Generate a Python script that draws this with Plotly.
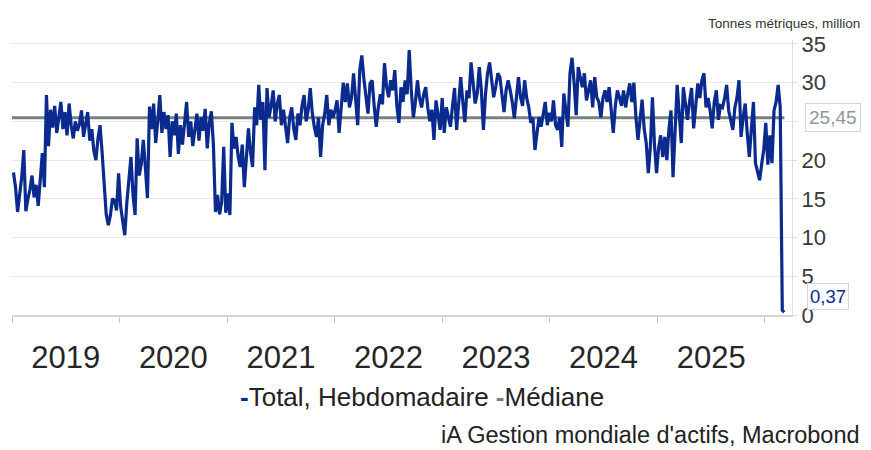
import pandas as pd
import plotly.graph_objects as go

# weekly totals, million metric tonnes
y2019 = [18.4, 16.5, 13.3, 15.5, 17.8, 21.3, 13.4, 15.0, 16.2, 18.0, 15.2, 16.8, 14.1,
         17.5, 20.9, 16.5, 28.4, 21.8, 26.5, 24.2, 27.0, 23.5, 25.8, 27.5, 24.0, 26.2,
         23.2, 27.3, 24.5, 22.8, 25.0, 23.8, 24.6, 26.4, 23.0, 24.8, 26.2, 22.5, 24.0,
         21.2, 20.0, 22.8, 24.5, 21.0, 17.5, 13.0, 11.6, 12.8, 15.0, 14.8, 13.5, 18.3]
y2020 = [14.0, 11.8, 10.3, 14.5, 17.0, 20.4, 15.5, 12.9, 22.8, 18.0, 19.5, 22.6, 19.0,
         15.1, 26.9, 24.0, 27.3, 22.2, 25.0, 28.4, 23.5, 26.2, 24.0, 25.8, 20.4, 25.0,
         23.2, 26.0, 20.8, 24.5, 22.0, 25.2, 27.5, 23.0, 25.0, 21.8, 24.2, 26.0, 22.5,
         25.5, 23.8, 26.6, 21.5, 24.8, 26.3, 22.0, 13.3, 15.5, 13.0, 14.6, 21.7, 13.2]
y2021 = [15.7, 12.9, 24.8, 21.5, 23.0, 20.5, 19.1, 22.0, 16.5, 20.0, 24.1, 21.0, 19.1,
         26.8, 24.5, 29.7, 25.2, 27.5, 18.7, 29.3, 25.5, 27.0, 29.0, 25.0, 27.3, 28.4,
         24.5, 26.5, 24.0, 22.2, 25.5, 26.8, 24.0, 22.6, 26.0, 24.5, 27.0, 28.4, 25.0,
         26.5, 29.3, 26.0, 24.2, 23.0, 25.5, 20.4, 24.5, 26.0, 28.4, 24.5, 26.5, 25.5]
y2022 = [26.4, 27.7, 23.5, 27.0, 30.0, 27.5, 29.9, 26.8, 28.0, 31.2, 27.5, 24.5, 31.6,
         33.5, 30.5, 28.6, 26.0, 29.9, 30.3, 27.0, 24.3, 26.8, 28.5, 27.2, 32.5, 29.5,
         28.1, 30.3, 29.0, 31.6, 27.0, 24.8, 29.4, 27.5, 30.3, 28.5, 34.2, 29.0, 25.5,
         27.5, 30.3, 28.0, 26.8, 28.5, 29.4, 26.8, 25.0, 26.5, 22.6, 27.7, 25.5, 23.9]
y2023 = [28.0, 23.5, 26.8, 25.5, 24.3, 27.0, 29.3, 23.9, 27.0, 30.7, 27.5, 24.9, 29.0,
         28.0, 32.6, 29.5, 27.3, 28.6, 32.0, 29.0, 23.9, 28.5, 31.2, 32.6, 30.0, 28.1,
         29.5, 31.2, 30.7, 28.5, 26.2, 29.0, 30.3, 29.0, 27.5, 25.4, 28.5, 30.7, 28.1,
         27.0, 30.3, 28.0, 26.8, 24.8, 25.5, 21.3, 23.5, 25.5, 24.3, 26.0, 27.5, 24.5]
y2024 = [26.1, 25.0, 27.7, 24.5, 23.9, 25.5, 21.7, 28.6, 26.0, 24.3, 31.2, 33.2, 30.0,
         25.8, 32.0, 30.5, 29.4, 31.2, 27.7, 29.0, 30.3, 26.8, 30.7, 28.1, 27.5, 25.5,
         28.0, 29.0, 27.5, 29.4, 26.4, 23.5, 27.0, 29.0, 28.1, 27.0, 29.0, 26.8, 28.5,
         29.9, 27.5, 30.0, 25.5, 22.6, 25.2, 27.8, 24.0, 22.2, 18.3, 21.7, 28.1, 22.0]
y2025 = [18.3, 21.5, 23.2, 20.4, 23.0, 20.0, 24.0, 26.4, 17.8, 24.5, 29.7, 26.0, 22.2,
         29.4, 27.0, 25.2, 27.5, 29.3, 24.1, 27.5, 29.9, 28.0, 30.3, 31.2, 26.8, 28.0,
         26.4, 24.1, 27.5, 29.0, 25.2, 27.0, 26.8, 28.0, 29.7, 26.4, 25.0, 23.9, 26.8,
         28.0, 30.3, 23.0, 25.5, 27.3, 23.5, 20.4, 24.0, 27.5, 19.6, 18.5, 17.4, 19.5]
y2026 = [21.3, 24.8, 19.4, 23.2, 19.6, 26.4, 27.5, 29.7, 26.8, 0.6, 0.37]

median = 25.45

y_ticks = [0, 5, 10, 15, 20, 25, 30, 35]
y_ticktext = ["0", "5", "10", "15", "20", "", "30", "35"]   # 25 sits under the median box

values = y2019 + y2020 + y2021 + y2022 + y2023 + y2024 + y2025 + y2026
dates = pd.date_range("2019-01-06", periods=len(values), freq="7D")

blue = "#0b2a8e"
grey = "#75827f"
font = "Liberation Sans, Arial, sans-serif"

fig = go.Figure()
fig.add_trace(go.Scatter(x=["2019-01-01", dates[-1]], y=[median, median], mode="lines",
                         line=dict(color=grey, width=3), name="Médiane"))
fig.add_trace(go.Scatter(x=dates, y=values, mode="lines",
                         line=dict(color=blue, width=3.2), name="Total, Hebdomadaire"))

# page body has an 8px margin, so the figure is drawn 8px smaller
fig.update_layout(
    width=863, height=442,
    margin=dict(l=4, r=79, t=32, b=135),
    plot_bgcolor="white", paper_bgcolor="white",
    showlegend=False,
    font=dict(family=font, color="#2a2a2a"),
)

fig.update_xaxes(
    type="date", range=["2019-01-01", "2026-04-03"],
    dtick="M12", tick0="2019-01-01", ticklabelmode="period", tickformat="%Y",
    ticks="outside", ticklen=6, tickcolor="#c8c8c8", ticklabelstandoff=8,
    showline=True, linecolor="#d6d6d6", linewidth=1.5,
    showgrid=False, zeroline=False, automargin=False,
    tickfont=dict(size=31, color="#262626"),
)
fig.update_yaxes(
    side="right", range=[0, 35.5], tickvals=y_ticks, ticktext=y_ticktext,
    showgrid=True, gridcolor="#e9e9e9", gridwidth=1,
    showline=True, linecolor="#dedede", ticks="outside", ticklen=4, tickcolor="#dedede",
    zeroline=False, automargin=False,
    tickfont=dict(size=22, color="#3a3a3a"),
)

fig.add_annotation(xref="paper", yref="paper", x=1.0, xshift=70, y=1.0, yshift=26,
                   xanchor="right", yanchor="top", showarrow=False,
                   text="Tonnes métriques, million", font=dict(size=13.5, color="#333"))

fig.add_annotation(xref="paper", yref="y", x=1.0, y=median, xshift=13,
                   xanchor="left", yanchor="middle", showarrow=False,
                   text="25,45", font=dict(size=19, color="#8d9a9a"),
                   bordercolor="#cfd6d6", borderwidth=1, borderpad=3, bgcolor="white")
fig.add_annotation(xref="paper", yref="y", x=1.0, y=values[-1], xshift=15, yshift=16,
                   xanchor="left", yanchor="middle", showarrow=False,
                   text="0,37", font=dict(size=18.5, color=blue),
                   bordercolor="#cfd6d6", borderwidth=1, borderpad=2, bgcolor="white")

fig.add_annotation(xref="paper", yref="paper", x=0.5, xshift=20, y=0, yshift=-82,
                   xanchor="center", yanchor="middle", showarrow=False,
                   text=f"<span style='color:{blue}'><b>-</b></span>Total, Hebdomadaire "
                        f"<span style='color:{grey}'><b>-</b></span>Médiane",
                   font=dict(size=26, color="#222"))
fig.add_annotation(xref="paper", yref="paper", x=1.0, xshift=70, y=0, yshift=-120,
                   xanchor="right", yanchor="middle", showarrow=False,
                   text="iA Gestion mondiale d'actifs, Macrobond",
                   font=dict(size=23.5, color="#222"))

fig.write_html("out.html")
